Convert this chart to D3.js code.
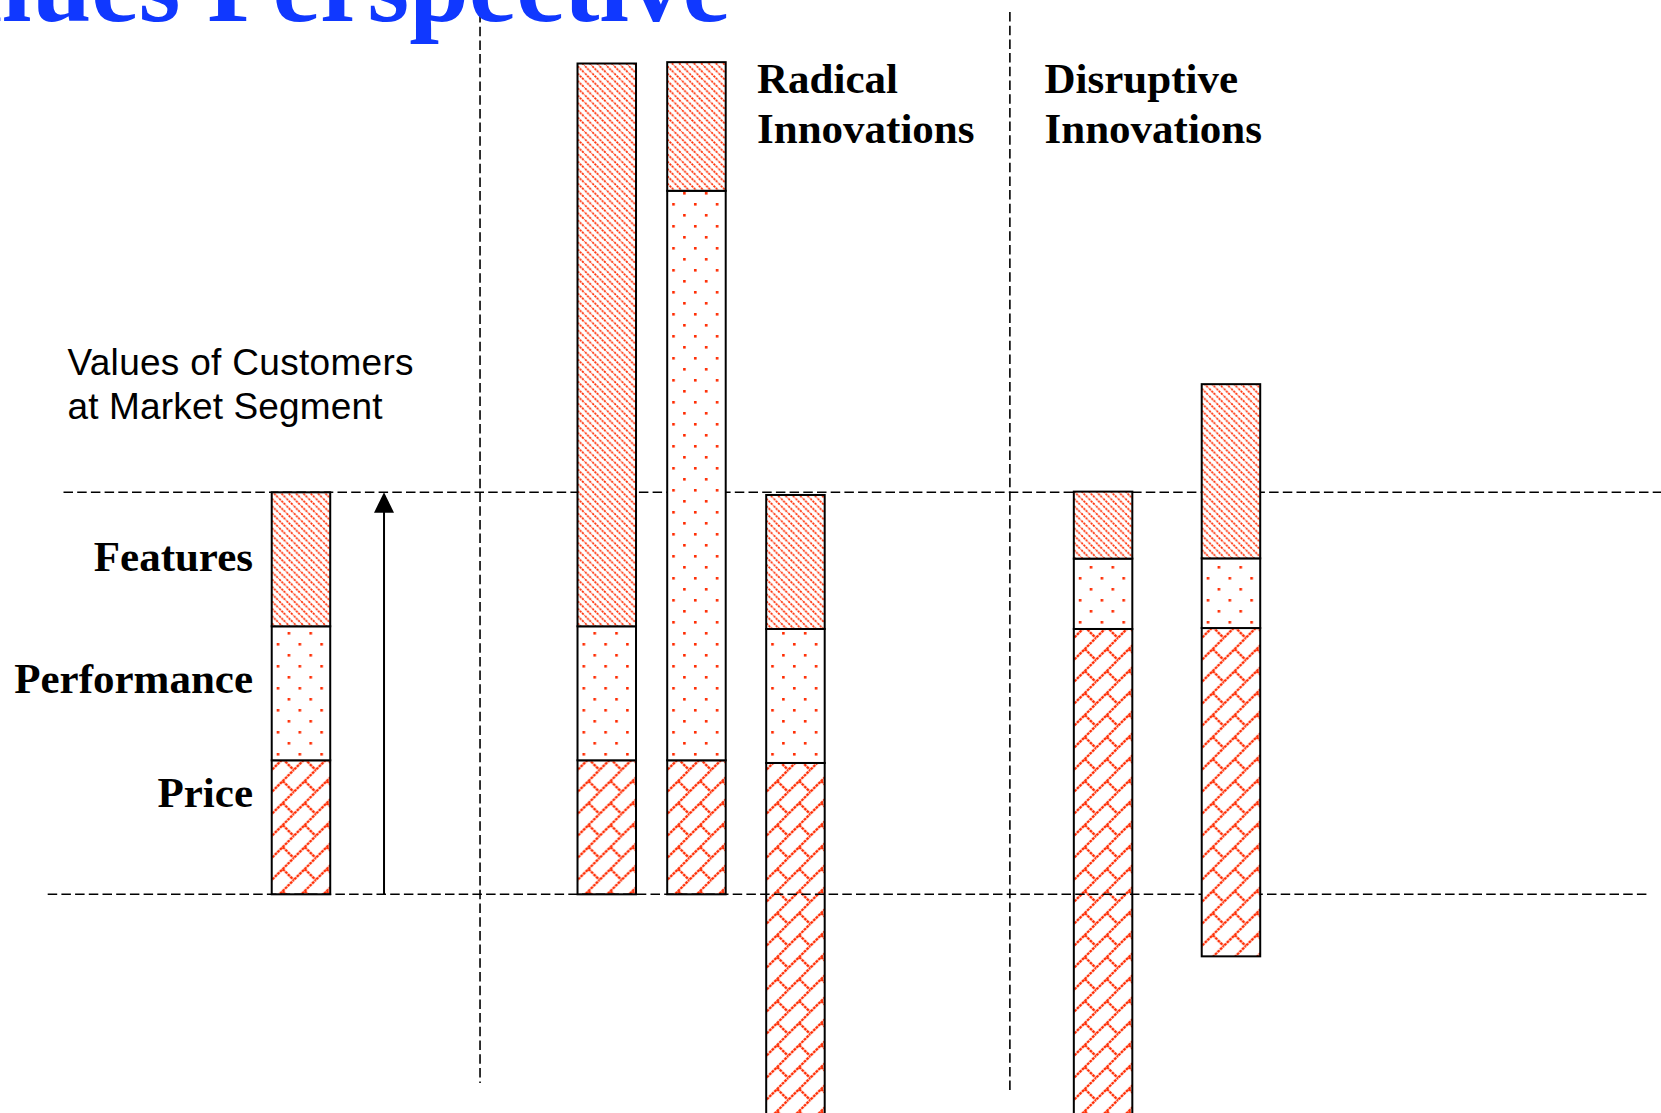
<!DOCTYPE html>
<html>
<head>
<meta charset="utf-8">
<script src="https://cdn.jsdelivr.net/npm/d3@7"></script>
<style>
html,body{margin:0;padding:0;background:#fff;overflow:hidden}
svg{display:block}
</style>
</head>
<body>
<svg id="chart" width="1661" height="1113"></svg>
<script>
// ---------------- data ----------------
const categories = ["Market Segment", "Radical A", "Radical B", "Radical C", "Disruptive A", "Disruptive B"];
const segmentNames = ["Price", "Performance", "Features"];
// position of each bar along the horizontal concept axis (0-100)
const barPosition = [18.12, 36.53, 41.93, 47.89, 66.41, 74.11];
// value at which each stack starts (customer value level units)
const baseValue = [0, 0, 0, -2.0, -2.0, -0.463];
const priceValues = [1.0, 1.0, 1.0, 2.98, 3.98, 2.45];
const performanceValues = [1.0, 1.0, 4.25, 1.0, 0.525, 0.52];
const featuresValues = [1.0, 4.2, 0.96, 1.0, 0.5, 1.3];
// reference levels: zero line and customer values level
const referenceLevels = [0, 3];
// group dividers along the concept axis
const dividerPositions = [28.9, 60.8];
const arrowPosition = 23.12;
const groupLabels = [["Radical", "Innovations"], ["Disruptive", "Innovations"]];
const segmentLabels = ["Features", "Performance", "Price"];
const noteLabel = ["Values of Customers", "at Market Segment"];
const titleText = "Values Perspective";

// ---------------- layout ----------------
const W = 1661, H = 1113;
const RED = "#ff2a00";
const svg = d3.select("#chart");
const x = d3.scaleLinear().domain([0, 100]).range([0, W]);
const y = d3.scaleLinear().domain([0, 3]).range([894.3, 492.3]);
const barW = 58.5;

const defs = svg.append("defs");
// Features: downward diagonal stripes
const pF = defs.append("pattern").attr("id", "pFeat").attr("patternUnits", "userSpaceOnUse")
  .attr("width", 7.33).attr("height", 7.33);
pF.append("rect").attr("width", 7.33).attr("height", 7.33).attr("fill", "#fff");
pF.append("path").attr("d", "M-2,-2 L9.33,9.33 M-2,5.33 L2,9.33 M5.33,-2 L9.33,2")
  .attr("stroke", RED).attr("stroke-width", 1.7).attr("stroke-dasharray", "2.2,0.9").attr("fill", "none");
// Performance: dots
const pP = defs.append("pattern").attr("id", "pPerf").attr("patternUnits", "userSpaceOnUse")
  .attr("width", 21.8).attr("height", 22);
pP.append("rect").attr("width", 21.8).attr("height", 22).attr("fill", "#fff");
pP.append("rect").attr("x", 5).attr("y", 5).attr("width", 2.6).attr("height", 2.6).attr("fill", RED);
pP.append("rect").attr("x", 15.9).attr("y", 16).attr("width", 2.6).attr("height", 2.6).attr("fill", RED);
// Price: diagonal brick
const pR = defs.append("pattern").attr("id", "pPrice").attr("patternUnits", "userSpaceOnUse")
  .attr("width", 22).attr("height", 22);
pR.append("rect").attr("width", 22).attr("height", 22).attr("fill", "#fff");
pR.append("path").attr("d", "M-2,24 L24,-2 M11,11 L22,22 M-2,2 L2,-2 M20,24 L24,20")
  .attr("stroke", RED).attr("stroke-width", 2.3).attr("stroke-dasharray", "2.8,0.8").attr("fill", "none");

const fills = ["url(#pPrice)", "url(#pPerf)", "url(#pFeat)"];

// build stacked segments
const bars = categories.map((c, i) => {
  const vals = [priceValues[i], performanceValues[i], featuresValues[i]];
  let acc = baseValue[i];
  const segs = vals.map((v, k) => {
    const s = {name: segmentNames[k], y0: acc, y1: acc + v, k};
    acc += v;
    return s;
  });
  return {category: c, pos: barPosition[i], base: baseValue[i], top: acc, segs};
});

const dash = "9.5,4.2";
const guides = svg.append("g").attr("stroke", "#000").attr("stroke-width", 1.6)
  .attr("stroke-dasharray", dash).attr("fill", "none");
// customer values level
guides.append("line").attr("x1", 63.5).attr("x2", W).attr("y1", y(referenceLevels[1])).attr("y2", y(referenceLevels[1]));
// dividers
const divTop = [13, 12], divBottom = [1083, 1091];
guides.selectAll("line.div").data(dividerPositions).join("line").attr("class", "div")
  .attr("x1", d => x(d)).attr("x2", d => x(d))
  .attr("y1", (d, i) => divTop[i]).attr("y2", (d, i) => divBottom[i]);

function drawBars(layer, data) {
  const g = layer.selectAll("g.bar").data(data).join("g").attr("class", "bar")
    .attr("transform", d => `translate(${x(d.pos) - barW / 2},0)`);
  g.selectAll("rect.seg").data(d => d.segs).join("rect").attr("class", "seg")
    .attr("x", 0).attr("width", barW)
    .attr("y", s => y(s.y1)).attr("height", s => y(s.y0) - y(s.y1))
    .attr("fill", s => fills[s.k])
    .attr("stroke", "#000").attr("stroke-width", 2);
}

drawBars(svg.append("g"), bars.slice(0, 5));

// zero line
svg.append("line").attr("stroke", "#000").attr("stroke-width", 1.6).attr("stroke-dasharray", dash)
  .attr("x1", 47.7).attr("x2", 1648.5).attr("y1", y(referenceLevels[0])).attr("y2", y(referenceLevels[0]));

drawBars(svg.append("g"), bars.slice(5));

// arrow
const ax = x(arrowPosition);
svg.append("line").attr("x1", ax).attr("x2", ax).attr("y1", y(0)).attr("y2", y(3) + 18)
  .attr("stroke", "#000").attr("stroke-width", 2);
svg.append("path")
  .attr("d", `M${ax},${y(3)} L${ax + 10},${y(3) + 20.4} L${ax - 10},${y(3) + 20.4} Z`)
  .attr("fill", "#000");

// texts
const serif = "'Liberation Serif','Times New Roman',Times,serif";
const sans = "'Liberation Sans',Arial,Helvetica,sans-serif";

svg.append("text").text(titleText)
  .attr("x", 730).attr("y", 21).attr("text-anchor", "end")
  .attr("font-family", serif).attr("font-weight", "bold").attr("font-size", 107)
  .attr("fill", "#1038ff");

const glX = [757, 1044.5];
groupLabels.forEach((lines, gi) => {
  const t = svg.append("text").attr("font-family", serif).attr("font-weight", "bold")
    .attr("font-size", 43).attr("fill", "#000");
  lines.forEach((l, li) => t.append("tspan").attr("x", glX[gi]).attr("y", 93.3 + li * 49.7).text(l));
});

const noteLen = [346, 315];
const nt = svg.append("text").attr("font-family", sans).attr("font-size", 37).attr("fill", "#000");
noteLabel.forEach((l, li) => nt.append("tspan").attr("x", 67.5).attr("y", 375 + li * 44.3)
  .attr("textLength", noteLen[li]).attr("lengthAdjust", "spacing").text(l));

const segLabelY = [571, 693.3, 807.3];
svg.selectAll("text.seglab").data(segmentLabels).join("text").attr("class", "seglab")
  .attr("x", 253).attr("y", (d, i) => segLabelY[i]).attr("text-anchor", "end")
  .attr("font-family", serif).attr("font-weight", "bold").attr("font-size", 43).attr("fill", "#000")
  .text(d => d);
</script>
</body>
</html>
